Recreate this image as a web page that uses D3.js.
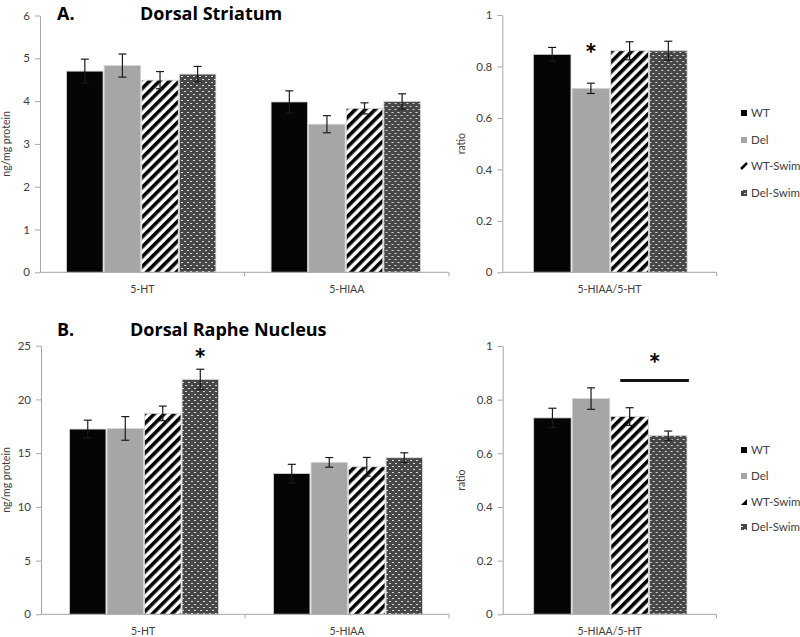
<!DOCTYPE html>
<html>
<head>
<meta charset="utf-8">
<script src="https://cdn.jsdelivr.net/npm/d3@7"></script>
<style>
  html, body { margin: 0; padding: 0; background: #fff; }
  svg { display: block; font-family: Lato, "Open Sans", sans-serif; }
</style>
</head>
<body>
<svg id="chart" width="800" height="637"></svg>
<script>
// ---------------- DATA ----------------
const series = ["WT", "Del", "WT-Swim", "Del-Swim"];

const catsAmine = ["5-HT", "5-HIAA"];
const catsRatio = ["5-HIAA/5-HT"];

// Panel A: Dorsal Striatum
const striatumMeans = [[4.70, 4.83, 4.49, 4.63], [3.98, 3.46, 3.83, 3.99]];
const striatumSem   = [[0.28, 0.27, 0.20, 0.18], [0.26, 0.20, 0.13, 0.18]];
const striatumRatioMeans = [[0.847, 0.715, 0.861, 0.861]];
const striatumRatioSem   = [[0.027, 0.020, 0.035, 0.037]];

// Panel B: Dorsal Raphe Nucleus
const rapheMeans = [[17.24, 17.30, 18.70, 21.86], [13.10, 14.14, 13.73, 14.57]];
const rapheSem   = [[0.83, 1.10, 0.68, 0.95], [0.86, 0.45, 0.87, 0.46]];
const rapheRatioMeans = [[0.732, 0.804, 0.737, 0.666]];
const rapheRatioSem   = [[0.036, 0.040, 0.033, 0.017]];

const ticksStriatum = [0, 1, 2, 3, 4, 5, 6];
const ticksRaphe = [0, 5, 10, 15, 20, 25];
const ticksRatio = [0, 0.2, 0.4, 0.6, 0.8, 1];

// ---------------- DRAWING ----------------
const svg = d3.select("#chart");
const defs = svg.append("defs");

// stripe pattern
const stripe = defs.append("pattern")
  .attr("id", "stripes").attr("patternUnits", "userSpaceOnUse")
  .attr("width", 7).attr("height", 7)
  .attr("patternTransform", "rotate(45)");
stripe.append("rect").attr("width", 7).attr("height", 7).attr("fill", "#fff");
stripe.append("rect").attr("width", 3.6).attr("height", 7).attr("fill", "#000");

// dotted (dark with white dashes) pattern
const dots = defs.append("pattern")
  .attr("id", "dots").attr("patternUnits", "userSpaceOnUse")
  .attr("width", 6).attr("height", 6);
dots.append("rect").attr("width", 6).attr("height", 6).attr("fill", "#474747");
dots.append("rect").attr("x", 0).attr("y", 1).attr("width", 2).attr("height", 1).attr("fill", "#d8d8d8");
dots.append("rect").attr("x", 3).attr("y", 4).attr("width", 2).attr("height", 1).attr("fill", "#d8d8d8");

const fills = ["#050505", "#a6a6a6", "url(#stripes)", "url(#dots)"];
const axisColor = "#a6a6a6";
const textColor = "#404040";

function drawPanel(cfg) {
  const g = svg.append("g");
  const x0 = d3.scaleBand().domain(cfg.cats).range(cfg.xr).paddingInner(0).paddingOuter(0);
  const bw = x0.bandwidth();
  const x1 = d3.scaleBand().domain(series)
    .range([bw * cfg.groupPad[0], bw * (1 - cfg.groupPad[1])]).paddingInner(0.03);
  const y = d3.scaleLinear().domain([0, cfg.ticks[cfg.ticks.length - 1]]).range(cfg.yr);

  // y axis
  const ya = g.append("g").attr("transform", `translate(${cfg.xr[0]},0)`)
    .call(d3.axisLeft(y).tickValues(cfg.ticks).tickSize(5).tickSizeOuter(0).tickPadding(5)
      .tickFormat(d3.format("")));
  ya.select(".domain").attr("stroke", axisColor);
  ya.selectAll(".tick line").attr("stroke", axisColor);
  ya.selectAll(".tick text").attr("fill", textColor).style("font-size", "11.5px")
    .style("font-family", "Lato, sans-serif");

  // y label
  g.append("text")
    .attr("transform", `translate(${cfg.ylabX},${(cfg.yr[0] + cfg.yr[1]) / 2}) rotate(-90)`)
    .attr("text-anchor", "middle").attr("dy", "0.35em")
    .attr("fill", textColor).style("font-size", "10.5px").text(cfg.ylabel);

  // bars
  cfg.cats.forEach((c, ci) => {
    const gg = g.append("g").attr("transform", `translate(${x0(c)},0)`);
    series.forEach((s, si) => {
      const v = cfg.means[ci][si];
      gg.append("rect")
        .attr("x", x1(s)).attr("y", y(v))
        .attr("width", x1.bandwidth()).attr("height", y(0) - y(v))
        .attr("fill", fills[si]).attr("stroke", "#d4d4d4").attr("stroke-width", 0.8);
    });
    // error bars
    series.forEach((s, si) => {
      const v = cfg.means[ci][si], e = cfg.sem[ci][si];
      const cx = x1(s) + x1.bandwidth() / 2;
      const col = "#1a1a1a";
      gg.append("line").attr("x1", cx).attr("x2", cx).attr("y1", y(v + e)).attr("y2", y(v - e))
        .attr("stroke", col).attr("stroke-width", 1.2);
      [v + e, v - e].forEach(t => {
        gg.append("line").attr("x1", cx - 4).attr("x2", cx + 4).attr("y1", y(t)).attr("y2", y(t))
          .attr("stroke", col).attr("stroke-width", 1.2);
      });
    });
  });

  // x axis
  g.append("line").attr("x1", cfg.xr[0]).attr("x2", cfg.xr[1]).attr("y1", y(0)).attr("y2", y(0))
    .attr("stroke", axisColor).attr("stroke-width", 1);
  const bounds = cfg.cats.map(c => x0(c)).concat([x0(cfg.cats[cfg.cats.length - 1]) + bw]).slice(1);
  bounds.forEach(bx => {
    g.append("line").attr("x1", bx).attr("x2", bx).attr("y1", y(0)).attr("y2", y(0) + 4)
      .attr("stroke", axisColor);
  });
  cfg.cats.forEach(c => {
    g.append("text").attr("x", x0(c) + bw / 2).attr("y", y(0) + 17).attr("dy", "0.35em")
      .attr("text-anchor", "middle").attr("fill", textColor).style("font-size", "10.5px").text(c);
  });

  // significance marks
  (cfg.stars || []).forEach(st => {
    const base = x0(st.cat);
    let cx;
    if (st.from) {
      const xa = base + x1(st.from) + x1.bandwidth() * 0.25;
      const xb = base + x1(st.to) + x1.bandwidth() * 1.05;
      g.append("line").attr("x1", xa).attr("x2", xb).attr("y1", y(st.barY)).attr("y2", y(st.barY))
        .attr("stroke", "#111").attr("stroke-width", 3);
      cx = (xa + xb) / 2;
    } else {
      cx = base + x1(st.series) + x1.bandwidth() / 2;
    }
    g.append("text").attr("x", cx).attr("y", y(st.y)).attr("dy", "0.59em")
      .attr("text-anchor", "middle").attr("fill", "#000")
      .style("font-size", "29px").style("font-weight", "bold").text("*");
  });
}

function drawLegend(ys, triangle) {
  const g = svg.append("g");
  series.forEach((s, i) => {
    const yy = ys[i];
    if (i === 2) {
      if (triangle) {
        g.append("path").attr("d", `M741,${yy + 3} L747,${yy - 3} L747,${yy + 3} Z`).attr("fill", "#000");
      } else {
        g.append("path").attr("d", `M741,${yy + 3} L747,${yy - 3}`)
          .attr("stroke", "#000").attr("stroke-width", 2.5);
      }
    } else {
      g.append("rect").attr("x", 741).attr("y", yy - 3).attr("width", 6).attr("height", 6)
        .attr("fill", fills[i]);
    }
    g.append("text").attr("x", 751).attr("y", yy).attr("dy", "0.35em")
      .attr("fill", textColor).style("font-size", "11.5px").text(s);
  });
}

// Titles
function title(x, y, label, x2, name) {
  svg.append("text").attr("x", x).attr("y", y).attr("fill", "#000")
    .style("font-family", "'Open Sans', sans-serif")
    .style("font-size", "18px").style("font-weight", "bold").text(label);
  svg.append("text").attr("x", x2).attr("y", y).attr("fill", "#000")
    .style("font-family", "'Open Sans', sans-serif")
    .style("font-size", "18px").style("font-weight", "bold").text(name);
}
title(57, 19.5, "A.", 140, "Dorsal Striatum");
title(57, 336, "B.", 130, "Dorsal Raphe Nucleus");

drawPanel({
  cats: catsAmine, means: striatumMeans, sem: striatumSem, ticks: ticksStriatum,
  xr: [40, 449], yr: [272.3, 15.5], groupPad: [0.13, 0.14], ylabel: "ng/mg protein", ylabX: 6
});
drawPanel({
  cats: catsRatio, means: striatumRatioMeans, sem: striatumRatioSem, ticks: ticksRatio,
  xr: [502.3, 716.7], yr: [272.3, 15], groupPad: [0.145, 0.138], ylabel: "ratio", ylabX: 461,
  stars: [{ cat: "5-HIAA/5-HT", series: "Del", y: 0.876 }]
});
drawPanel({
  cats: catsAmine, means: rapheMeans, sem: rapheSem, ticks: ticksRaphe,
  xr: [41, 449], yr: [614.3, 345.7], groupPad: [0.14, 0.13], ylabel: "ng/mg protein", ylabX: 6,
  stars: [{ cat: "5-HT", series: "Del-Swim", y: 24.45 }]
});
drawPanel({
  cats: catsRatio, means: rapheRatioMeans, sem: rapheRatioSem, ticks: ticksRatio,
  xr: [502.7, 716.5], yr: [614.3, 346], groupPad: [0.145, 0.138], ylabel: "ratio", ylabX: 461,
  stars: [{ cat: "5-HIAA/5-HT", from: "WT-Swim", to: "Del-Swim", barY: 0.871, y: 0.961 }]
});

drawLegend([113, 140, 166, 193], false);
drawLegend([450, 476, 502, 527], true);
</script>
</body>
</html>
